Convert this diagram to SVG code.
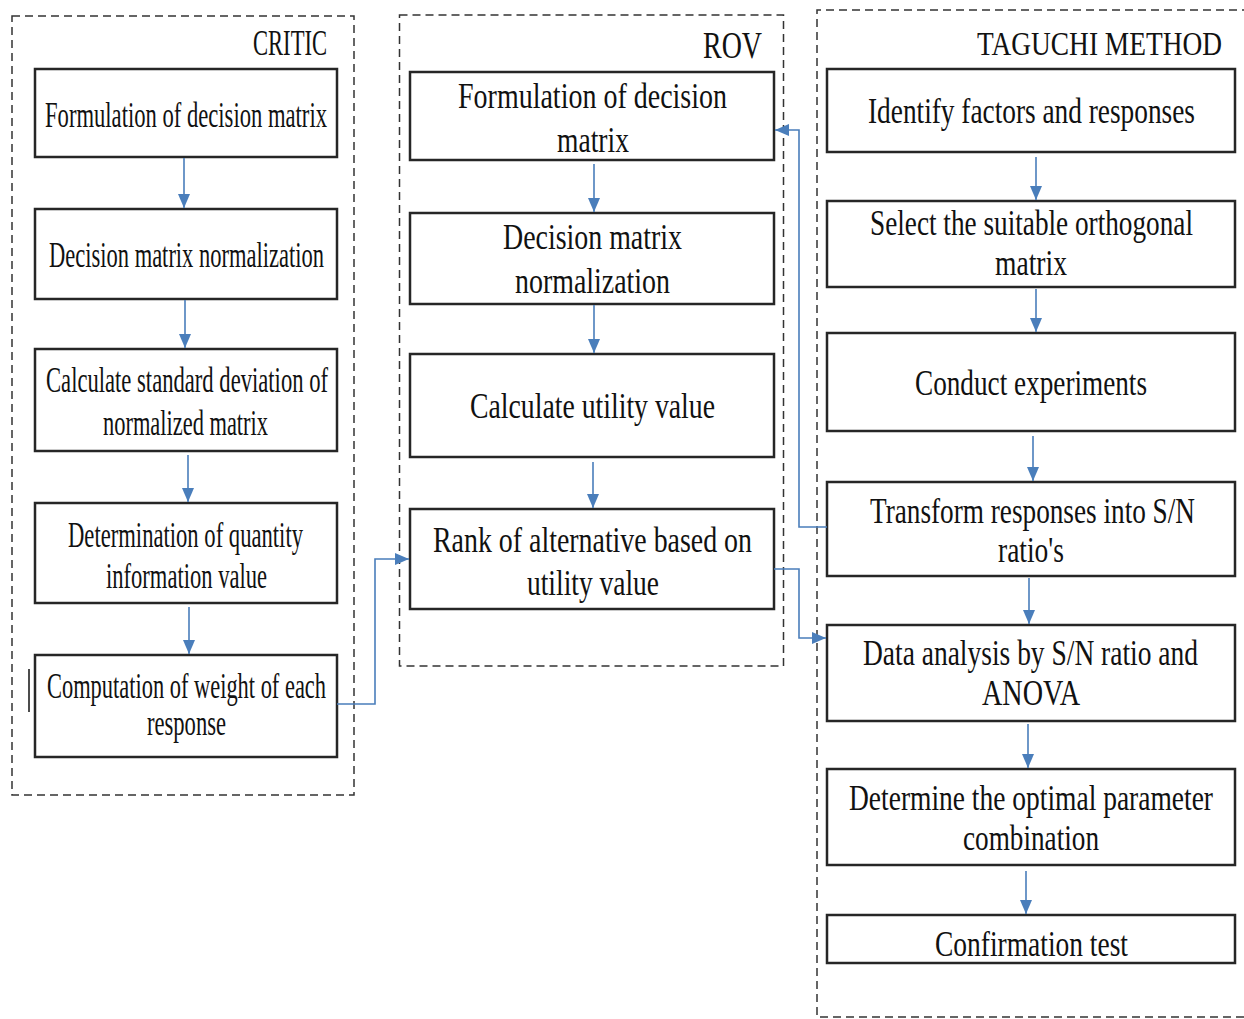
<svg xmlns="http://www.w3.org/2000/svg" width="1244" height="1019" viewBox="0 0 1244 1019">
<defs>
<style>
.frame{fill:none;stroke:#333;stroke-width:1.5;stroke-dasharray:8 5}
.box{fill:#fff;stroke:#262626;stroke-width:2.5}
.t{font-family:"Liberation Serif","Times New Roman",serif;font-size:23px;fill:#111}
.title{font-family:"Liberation Serif","Times New Roman",serif;font-size:22px;fill:#111}
.c{fill:none;stroke:#4a7ebb;stroke-width:1.6}
</style>
<marker id="ah" viewBox="0 0 14 12" refX="14" refY="6" markerWidth="14" markerHeight="12" markerUnits="userSpaceOnUse" orient="auto">
<path d="M0,0 L14,6 L0,12 z" fill="#4a7ebb"/>
</marker>
</defs>
<rect width="1244" height="1019" fill="#fff"/>

<g id="frames">
<rect class="frame" x="12" y="16" width="342" height="779"/>
<rect class="frame" x="399.5" y="15" width="384" height="651"/>
<path class="frame" d="M1250 10 H817 V1017 H1250"/>
<text class="title" transform="translate(253 55) scale(1 1.59)" textLength="74" lengthAdjust="spacingAndGlyphs">CRITIC</text>
<text class="title" transform="translate(703 58) scale(1 1.68)" textLength="59" lengthAdjust="spacingAndGlyphs">ROV</text>
<text class="title" transform="translate(977 55) scale(1 1.55)" textLength="245" lengthAdjust="spacingAndGlyphs">TAGUCHI METHOD</text>
</g>

<line x1="29" y1="669" x2="29" y2="712" stroke="#111" stroke-width="1.5"/>

<g id="critic1"><rect class="box" x="35" y="69" width="302" height="88"/>
<text class="t" transform="translate(45 127) scale(1 1.565)" textLength="282" lengthAdjust="spacingAndGlyphs">Formulation of decision matrix</text></g>
<g id="critic2"><rect class="box" x="35" y="209" width="302" height="90"/>
<text class="t" transform="translate(49 267) scale(1 1.565)" textLength="275" lengthAdjust="spacingAndGlyphs">Decision matrix normalization</text></g>
<g id="critic3"><rect class="box" x="35" y="349" width="302" height="102"/>
<text class="t" transform="translate(46 392) scale(1 1.565)" textLength="282" lengthAdjust="spacingAndGlyphs">Calculate standard deviation of</text>
<text class="t" transform="translate(103 435) scale(1 1.565)" textLength="165" lengthAdjust="spacingAndGlyphs">normalized matrix</text></g>
<g id="critic4"><rect class="box" x="35" y="503" width="302" height="100"/>
<text class="t" transform="translate(68 547) scale(1 1.565)" textLength="235" lengthAdjust="spacingAndGlyphs">Determination of quantity</text>
<text class="t" transform="translate(106 588) scale(1 1.565)" textLength="161" lengthAdjust="spacingAndGlyphs">information value</text></g>
<g id="critic5"><rect class="box" x="35" y="655" width="302" height="102"/>
<text class="t" transform="translate(47 698) scale(1 1.565)" textLength="279" lengthAdjust="spacingAndGlyphs">Computation of weight of each</text>
<text class="t" transform="translate(147 735) scale(1 1.565)" textLength="79" lengthAdjust="spacingAndGlyphs">response</text></g>

<g id="rov1"><rect class="box" x="410" y="72" width="364" height="88"/>
<text class="t" transform="translate(458 108) scale(1 1.565)" textLength="269" lengthAdjust="spacingAndGlyphs">Formulation of decision</text>
<text class="t" transform="translate(557 152) scale(1 1.565)" textLength="72" lengthAdjust="spacingAndGlyphs">matrix</text></g>
<g id="rov2"><rect class="box" x="410" y="213" width="364" height="91"/>
<text class="t" transform="translate(503 249) scale(1 1.565)" textLength="179" lengthAdjust="spacingAndGlyphs">Decision matrix</text>
<text class="t" transform="translate(515 293) scale(1 1.565)" textLength="155" lengthAdjust="spacingAndGlyphs">normalization</text></g>
<g id="rov3"><rect class="box" x="410" y="354" width="364" height="103"/>
<text class="t" transform="translate(470 418) scale(1 1.565)" textLength="245" lengthAdjust="spacingAndGlyphs">Calculate utility value</text></g>
<g id="rov4"><rect class="box" x="410" y="509" width="364" height="100"/>
<text class="t" transform="translate(433 552) scale(1 1.565)" textLength="319" lengthAdjust="spacingAndGlyphs">Rank of alternative based on</text>
<text class="t" transform="translate(527 595) scale(1 1.565)" textLength="132" lengthAdjust="spacingAndGlyphs">utility value</text></g>

<g id="tag1"><rect class="box" x="827" y="69" width="408" height="83"/>
<text class="t" transform="translate(868 123) scale(1 1.565)" textLength="327" lengthAdjust="spacingAndGlyphs">Identify factors and responses</text></g>
<g id="tag2"><rect class="box" x="827" y="201" width="408" height="86"/>
<text class="t" transform="translate(870 235) scale(1 1.565)" textLength="323" lengthAdjust="spacingAndGlyphs">Select the suitable orthogonal</text>
<text class="t" transform="translate(995 275) scale(1 1.565)" textLength="72" lengthAdjust="spacingAndGlyphs">matrix</text></g>
<g id="tag3"><rect class="box" x="827" y="333" width="408" height="98"/>
<text class="t" transform="translate(915 395) scale(1 1.565)" textLength="232" lengthAdjust="spacingAndGlyphs">Conduct experiments</text></g>
<g id="tag4"><rect class="box" x="827" y="482" width="408" height="94"/>
<text class="t" transform="translate(870 523) scale(1 1.565)" textLength="325" lengthAdjust="spacingAndGlyphs">Transform responses into S/N</text>
<text class="t" transform="translate(998 562) scale(1 1.565)" textLength="66" lengthAdjust="spacingAndGlyphs">ratio's</text></g>
<g id="tag5"><rect class="box" x="827" y="625" width="408" height="96"/>
<text class="t" transform="translate(863 665) scale(1 1.565)" textLength="335" lengthAdjust="spacingAndGlyphs">Data analysis by S/N ratio and</text>
<text class="t" transform="translate(982 705) scale(1 1.565)" textLength="98" lengthAdjust="spacingAndGlyphs">ANOVA</text></g>
<g id="tag6"><rect class="box" x="827" y="769" width="408" height="96"/>
<text class="t" transform="translate(849 810) scale(1 1.565)" textLength="364" lengthAdjust="spacingAndGlyphs">Determine the optimal parameter</text>
<text class="t" transform="translate(963 850) scale(1 1.565)" textLength="136" lengthAdjust="spacingAndGlyphs">combination</text></g>
<g id="tag7"><rect class="box" x="827" y="915" width="408" height="48"/>
<text class="t" transform="translate(935 956) scale(1 1.565)" textLength="193" lengthAdjust="spacingAndGlyphs">Confirmation test</text></g>

<g id="connectors">
<path class="c" marker-end="url(#ah)" d="M184 158 V208"/>
<path class="c" marker-end="url(#ah)" d="M185 300 V348"/>
<path class="c" marker-end="url(#ah)" d="M188 455 V502"/>
<path class="c" marker-end="url(#ah)" d="M189 607 V654"/>
<path class="c" marker-end="url(#ah)" d="M337 704 H375 V559 H409"/>
<path class="c" marker-end="url(#ah)" d="M594 164 V212"/>
<path class="c" marker-end="url(#ah)" d="M594 305 V353"/>
<path class="c" marker-end="url(#ah)" d="M593 462 V508"/>
<path class="c" marker-end="url(#ah)" d="M827 527 H799 V130 H775"/>
<path class="c" marker-end="url(#ah)" d="M774 569 H799 V638 H826"/>
<path class="c" marker-end="url(#ah)" d="M1036 157 V200"/>
<path class="c" marker-end="url(#ah)" d="M1036 289 V332"/>
<path class="c" marker-end="url(#ah)" d="M1033 436 V481"/>
<path class="c" marker-end="url(#ah)" d="M1029 578 V624"/>
<path class="c" marker-end="url(#ah)" d="M1028 724 V768"/>
<path class="c" marker-end="url(#ah)" d="M1026 871 V914"/>
</g>
</svg>
